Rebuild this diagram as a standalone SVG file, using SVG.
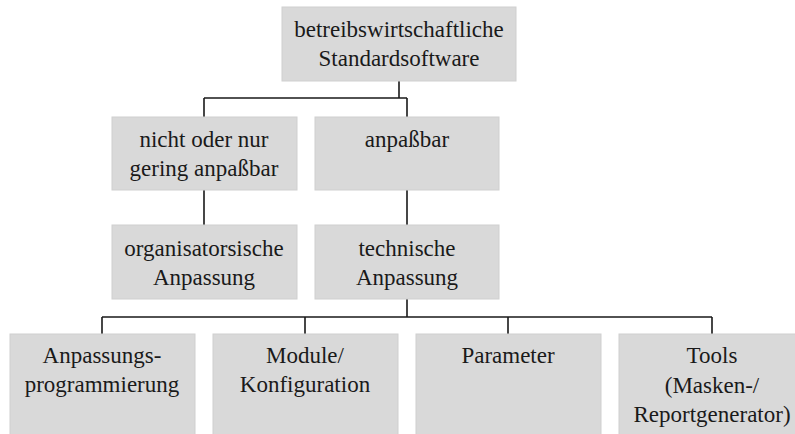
<svg xmlns="http://www.w3.org/2000/svg" width="795" height="434" viewBox="0 0 795 434">
<style>
.box{fill:#d9d9d9;stroke:#cfcfcf;stroke-width:1}
.c{fill:none;stroke:#1a1a1a;stroke-width:1.6}
</style>
<rect width="795" height="434" fill="#ffffff"/>
<g id="connectors">
<path class="c" d="M399 81V98M204 98H407M204 98V117M407 98V117"/>
<path class="c" d="M204 190V225M407 190V225"/>
<path class="c" d="M407 299V317M102 317H712M102 317V334M305 317V334M508 317V334M712 317V334"/>
</g>
<g id="nodes" font-family="Liberation Serif, Times New Roman, DejaVu Serif, serif" font-size="23" fill="#1a1a1a" text-anchor="middle">
<g id="root"><rect class="box" x="282" y="7" width="234" height="74"/>
<text x="399" y="37">betreibswirtschaftliche</text><text x="399" y="66">Standardsoftware</text></g>
<g id="gering"><rect class="box" x="112" y="117" width="185" height="73"/>
<text x="204" y="147">nicht oder nur</text><text x="204" y="176">gering anpaßbar</text></g>
<g id="anpassbar"><rect class="box" x="315" y="117" width="184" height="73"/>
<text x="407" y="147">anpaßbar</text></g>
<g id="organisatorisch"><rect class="box" x="112" y="225" width="185" height="74"/>
<text x="204" y="256">organisatorsische</text><text x="204" y="285">Anpassung</text></g>
<g id="technisch"><rect class="box" x="315" y="225" width="184" height="74"/>
<text x="407" y="256">technische</text><text x="407" y="285">Anpassung</text></g>
<g id="programmierung"><rect class="box" x="10" y="334" width="185" height="110"/>
<text x="102" y="363">Anpassungs-</text><text x="102" y="392">programmierung</text></g>
<g id="module"><rect class="box" x="213" y="334" width="185" height="110"/>
<text x="305" y="363">Module/</text><text x="305" y="392">Konfiguration</text></g>
<g id="parameter"><rect class="box" x="416" y="334" width="185" height="110"/>
<text x="508" y="363">Parameter</text></g>
<g id="tools"><rect class="box" x="619" y="334" width="190" height="110"/>
<text x="712" y="363">Tools</text><text x="712" y="393">(Masken-/</text><text x="712" y="422">Reportgenerator)</text></g>
</g>
</svg>
